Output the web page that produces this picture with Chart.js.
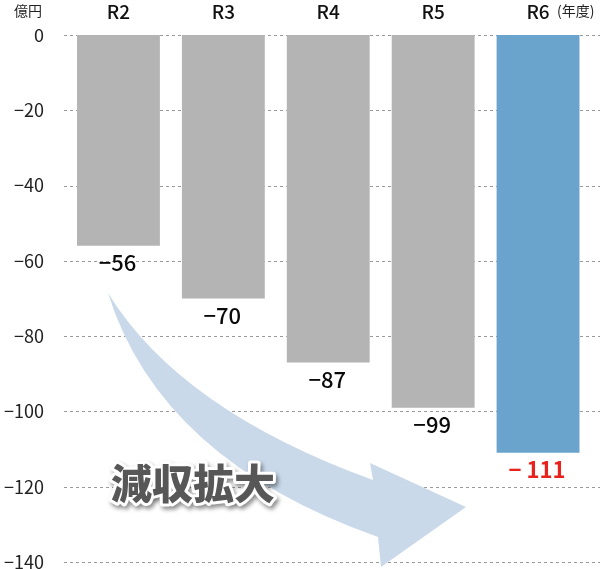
<!DOCTYPE html>
<html>
<head>
<meta charset="utf-8">
<script src="https://cdn.jsdelivr.net/npm/chart.js@4/dist/chart.umd.min.js"></script>
<style>
  html, body { margin: 0; padding: 0; background: #fff; }
  #wrap { width: 600px; height: 569px; }
</style>
</head>
<body>
<div id="wrap"><canvas id="c" width="600" height="569"></canvas></div>
<script>
const categories = ['R2', 'R3', 'R4', 'R5', 'R6'];
const values = [-56, -70, -87, -99, -111];
const valueLabels = ['−56', '−70', '−87', '−99', '− 111'];
const yMin = -140;
const yMax = 0;
const yStep = 20;
const unitLabel = '億円';
const yearLabel = '(年度)';
const trendLabel = '減収拡大';

const GREY = '#b4b4b5';
const BLUE = '#6aa3cb';
const barColors = values.map((v, i) => i === values.length - 1 ? BLUE : GREY);
const labelColors = values.map((v, i) => i === values.length - 1 ? '#e8231d' : '#0a0a0a');
const labelWeights = values.map((v, i) => i === values.length - 1 ? 'bold' : '500');
const FONT = '"Noto Sans CJK JP", "Noto Sans", sans-serif';

const gridPlugin = {
  id: 'dashGrid',
  beforeDatasetsDraw(chart) {
    const ctx = chart.ctx;
    const ys = chart.scales.y;
    ctx.save();
    ctx.strokeStyle = '#9a9a9a';
    ctx.lineWidth = 1;
    ctx.setLineDash([3, 3]);
    ys.ticks.forEach(t => {
      const y = Math.round(ys.getPixelForValue(t.value)) + 0.5;
      ctx.beginPath();
      ctx.moveTo(64, y);
      ctx.lineTo(600, y);
      ctx.stroke();
    });
    ctx.restore();
  }
};

const decoPlugin = {
  id: 'deco',
  afterDatasetsDraw(chart) {
    const ctx = chart.ctx;
    const meta = chart.getDatasetMeta(0);
    ctx.save();
    // curved arrow (decoration)
    ctx.fillStyle = '#c9d9ea';
    ctx.beginPath();
    ctx.moveTo(108, 293);
    ctx.quadraticCurveTo(180, 410, 373, 480);
    ctx.lineTo(370, 463);
    ctx.lineTo(466, 507);
    ctx.lineTo(381, 567);
    ctx.lineTo(378, 537);
    ctx.quadraticCurveTo(160, 460, 108, 293);
    ctx.closePath();
    ctx.fill();

    // value labels under bars
    ctx.textAlign = 'center';
    ctx.textBaseline = 'middle';
    meta.data.forEach((bar, i) => {
      ctx.fillStyle = labelColors[i];
      ctx.font = labelWeights[i] + ' 22px ' + FONT;
      ctx.fillText(valueLabels[i], bar.x - 1, bar.y + 17);
    });

    // trend text
    ctx.font = '900 41px "Noto Sans CJK JP", sans-serif';
    ctx.textAlign = 'left';
    ctx.textBaseline = 'middle';
    ctx.shadowColor = 'rgba(0,0,0,0.45)';
    ctx.shadowOffsetX = 2;
    ctx.shadowOffsetY = 3;
    ctx.shadowBlur = 4;
    ctx.lineJoin = 'round';
    ctx.strokeStyle = '#ffffff';
    ctx.lineWidth = 6;
    ctx.strokeText(trendLabel, 111, 483);
    ctx.shadowColor = 'transparent';
    ctx.fillStyle = '#575757';
    ctx.fillText(trendLabel, 111, 483);

    // unit and year labels
    ctx.fillStyle = '#222';
    ctx.font = '14px "Noto Sans CJK JP", sans-serif';
    ctx.textAlign = 'left';
    ctx.fillText(unitLabel, 14, 11);
    ctx.fillText(yearLabel, 557, 11);
    ctx.restore();
  }
};

new Chart(document.getElementById('c'), {
  type: 'bar',
  data: {
    labels: categories,
    datasets: [{
      data: values,
      backgroundColor: barColors,
      borderWidth: 0,
      barPercentage: 0.79,
      categoryPercentage: 1.0
    }]
  },
  options: {
    responsive: false,
    animation: false,
    devicePixelRatio: 1,
    layout: { padding: { top: 0, right: 9.5, bottom: 7, left: 0 } },
    plugins: { legend: { display: false }, tooltip: { enabled: false } },
    scales: {
      x: {
        position: 'top',
        grid: { display: false, drawTicks: false },
        border: { display: false },
        ticks: { font: { family: FONT, size: 19, weight: '500' }, color: '#111', padding: 12 },
        afterFit(s) { s.height = 35; }
      },
      y: {
        min: yMin,
        max: yMax,
        grid: { display: false, drawTicks: false },
        border: { display: false },
        ticks: {
          stepSize: yStep,
          font: { family: FONT, size: 18 },
          color: '#222',
          padding: 22,
          callback: v => String(v).replace('-', '−')
        },
        afterFit(s) { s.width = 66; s.paddingTop = 0; s.paddingBottom = 0; }
      }
    }
  },
  plugins: [gridPlugin, decoPlugin]
});
</script>
</body>
</html>
